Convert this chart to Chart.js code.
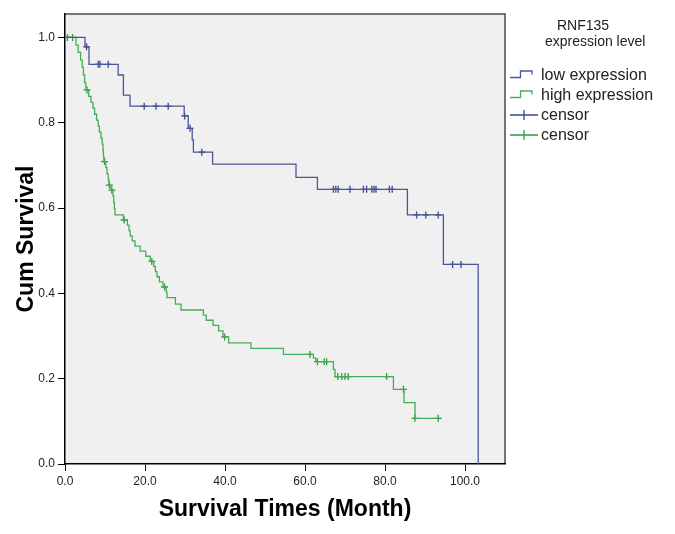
<!DOCTYPE html>
<html>
<head>
<meta charset="utf-8">
<script src="https://cdn.jsdelivr.net/npm/chart.js@4"></script>
<style>
  body { margin: 0; background: #fff; }
  .wrap { position: relative; width: 675px; height: 534px; font-family: "Liberation Sans", Arial, sans-serif; color: #222; }
  .wrap canvas { position: absolute; left: 0; top: 0; }
  .legend-title { position: absolute; font-size: 14px; line-height: 18px; white-space: nowrap; }
  .legend-item { position: absolute; left: 509px; height: 20px; display: flex; align-items: center; font-size: 16px; white-space: nowrap; }
  .legend-item svg { width: 31px; height: 20px; margin-right: 1px; }
</style>
</head>
<body>
<div class="wrap">
  <canvas id="km" width="675" height="534"></canvas>
  <div class="legend-title" style="left:557px;top:16px">RNF135</div>
  <div class="legend-title" style="left:545px;top:32px">expression level</div>
  <div class="legend-item" style="top:65px">
    <svg viewBox="0 0 31 20"><path d="M1 12.5 H11.5 V6 H23 V9.5" fill="none" stroke="#4b5699" stroke-width="1.3"/></svg>low expression
  </div>
  <div class="legend-item" style="top:85px">
    <svg viewBox="0 0 31 20"><path d="M1 12.5 H11.5 V6 H23 V9.5" fill="none" stroke="#45ad55" stroke-width="1.3"/></svg>high expression
  </div>
  <div class="legend-item" style="top:105px">
    <svg viewBox="0 0 31 20"><path d="M1 10 H29 M15 5 V15" fill="none" stroke="#3d4890" stroke-width="1.3"/></svg>censor
  </div>
  <div class="legend-item" style="top:125px">
    <svg viewBox="0 0 31 20"><path d="M1 10 H29 M15 5 V15" fill="none" stroke="#2f9c42" stroke-width="1.3"/></svg>censor
  </div>
</div>
<script>
// low expression: event times (months) and cumulative survival after each step
const lowTimes = [0, 5.0, 6.0, 13.3, 14.6, 16.25, 29.8, 30.8, 31.8, 32.1, 36.9, 57.75, 63.1, 85.6, 94.6, 103.3];
const lowSurv  = [1.0, 0.978, 0.937, 0.912, 0.865, 0.839, 0.816, 0.787, 0.760, 0.731, 0.703, 0.672, 0.644, 0.584, 0.468, 0.0];
const lowCensorTimes = [5.4, 8.3, 8.75, 10.8, 19.8, 22.75, 25.8, 29.9, 31.25, 34.2,
  67.1, 67.7, 68.3, 71.25, 74.6, 75.4, 76.7, 77.25, 77.75, 81.1, 81.8, 87.9, 90.2, 93.3, 96.9, 99.0];
const lowCensorSurv  = [0.978, 0.937, 0.937, 0.937, 0.839, 0.839, 0.839, 0.816, 0.787, 0.731,
  0.644, 0.644, 0.644, 0.644, 0.644, 0.644, 0.644, 0.644, 0.644, 0.644, 0.644, 0.584, 0.584, 0.584, 0.468, 0.468];

// high expression
const highTimes = [0, 2.75, 3.3, 3.9, 4.3, 4.6, 4.9, 5.2, 5.9, 6.5, 7.0, 7.4, 7.9, 8.3, 8.6, 9.0, 9.3, 9.5, 9.6, 9.7,
  10.2, 10.5, 10.8, 11.0, 11.5, 12.0, 12.2, 12.35, 12.5, 14.6, 15.6, 16.0, 16.3, 16.8, 17.5, 18.8, 20.2, 21.3,
  22.2, 22.6, 23.0, 23.6, 24.5, 25.3, 25.5, 27.6, 29.0, 34.6, 35.3, 37.0, 38.4, 39.5, 40.9, 46.5, 54.6,
  62.1, 62.7, 67.1, 67.5, 82.1, 84.75, 87.5, 93.3];
const highSurv  = [1.0, 0.982, 0.965, 0.947, 0.930, 0.912, 0.894, 0.877, 0.862, 0.848, 0.834, 0.820, 0.806, 0.792, 0.778, 0.764, 0.750, 0.736, 0.722, 0.709,
  0.695, 0.680, 0.666, 0.654, 0.642, 0.628, 0.613, 0.598, 0.584, 0.572, 0.560, 0.547, 0.535, 0.523, 0.511, 0.499, 0.487, 0.475,
  0.463, 0.451, 0.439, 0.427, 0.415, 0.403, 0.390, 0.375, 0.361, 0.349, 0.337, 0.325, 0.312, 0.298, 0.284, 0.271, 0.257,
  0.248, 0.240, 0.222, 0.205, 0.175, 0.144, 0.107, 0.107];
const highCensorTimes = [0.6, 1.9, 5.5, 9.9, 11.1, 11.7, 14.8, 21.7, 24.9, 39.9, 61.25, 63.1, 64.8, 65.4,
  68.2, 69.2, 70.0, 70.8, 80.4, 84.6, 87.5, 93.3];
const highCensorSurv  = [1.0, 1.0, 0.877, 0.709, 0.654, 0.642, 0.572, 0.475, 0.415, 0.298, 0.257, 0.240, 0.240, 0.240,
  0.205, 0.205, 0.205, 0.205, 0.205, 0.175, 0.107, 0.107];

const xTicks = [0, 20, 40, 60, 80, 100];
const yTicks = [0, 0.2, 0.4, 0.6, 0.8, 1.0];

const BLUE = '#4b5699', BLUE_MARK = '#3d4890';
const GREEN = '#45ad55', GREEN_MARK = '#2f9c42';
const FONT = '"Liberation Sans", Arial, sans-serif';

const toPoints = (xs, ys) => xs.map((x, i) => ({ x: x, y: ys[i] }));

// grey plotting area with a dark frame on top and right
const plotFrame = {
  id: 'plotFrame',
  beforeDraw(chart) {
    const { ctx, chartArea: a } = chart;
    ctx.save();
    ctx.fillStyle = '#f0f0f0';
    ctx.fillRect(a.left, a.top, a.right - a.left, a.bottom - a.top);
    ctx.strokeStyle = '#4a4a4a';
    ctx.lineWidth = 1.5;
    ctx.beginPath();
    ctx.moveTo(a.left, a.top);
    ctx.lineTo(a.right, a.top);
    ctx.lineTo(a.right, a.bottom);
    ctx.stroke();
    ctx.restore();
  }
};

const censorSet = (label, pts, color) => ({
  label: label, data: pts, showLine: false,
  pointStyle: 'cross', pointRadius: 3.5, pointBorderWidth: 1.3,
  pointBorderColor: color, borderColor: color, pointHoverRadius: 3.5
});

new Chart(document.getElementById('km'), {
  type: 'line',
  data: {
    datasets: [
      { label: 'low expression', data: toPoints(lowTimes, lowSurv), borderColor: BLUE, borderWidth: 1.3,
        stepped: 'before', pointRadius: 0, fill: false },
      { label: 'high expression', data: toPoints(highTimes, highSurv), borderColor: GREEN, borderWidth: 1.3,
        stepped: 'before', pointRadius: 0, fill: false },
      censorSet('censor', toPoints(lowCensorTimes, lowCensorSurv), BLUE_MARK),
      censorSet('censor', toPoints(highCensorTimes, highCensorSurv), GREEN_MARK)
    ]
  },
  options: {
    responsive: false,
    animation: false,
    layout: { padding: { top: 14, right: 170, left: 0, bottom: 0 } },
    plugins: { legend: { display: false }, tooltip: { enabled: false } },
    scales: {
      x: {
        type: 'linear', min: 0, max: 110,
        afterBuildTicks: s => { s.ticks = xTicks.map(v => ({ value: v })); },
        afterFit: s => { s.height = 70; },
        ticks: { callback: v => v.toFixed(1), color: '#222', font: { family: FONT, size: 12 }, padding: 3, maxRotation: 0 },
        grid: { drawOnChartArea: false, drawTicks: true, tickLength: 7, color: '#000' },
        border: { color: '#000', width: 1.5 },
        title: { display: true, text: 'Survival Times (Month)', color: '#000',
          font: { family: FONT, size: 23, weight: 'bold' }, padding: { top: 0, bottom: 11 } }
      },
      y: {
        min: 0, max: 1.055,
        afterBuildTicks: s => { s.ticks = yTicks.map(v => ({ value: v })); },
        afterFit: s => { s.width = 65; },
        ticks: { callback: v => v.toFixed(1), color: '#222', font: { family: FONT, size: 12 }, padding: 3 },
        grid: { drawOnChartArea: false, drawTicks: true, tickLength: 7, color: '#000' },
        border: { color: '#000', width: 1.5 },
        title: { display: true, text: 'Cum Survival', color: '#000',
          font: { family: FONT, size: 23, weight: 'bold' }, padding: { top: 13, bottom: 0 } }
      }
    }
  },
  plugins: [plotFrame]
});
</script>
</body>
</html>
